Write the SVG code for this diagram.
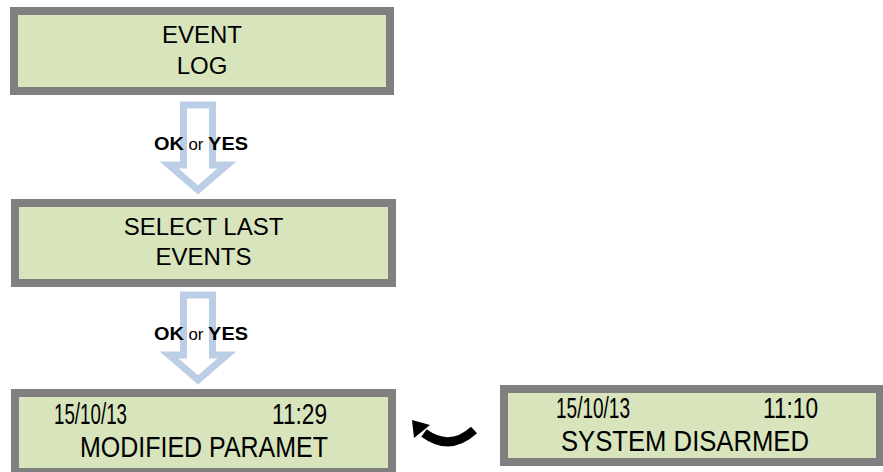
<svg xmlns="http://www.w3.org/2000/svg" width="883" height="472" viewBox="0 0 883 472">
<defs>
<style>
.box{fill:#d8e4bc;stroke:#808080;stroke-width:8}
.t{font-family:"Liberation Sans",Arial,sans-serif;font-size:24px;fill:#000;text-anchor:middle}
.n{font-family:"Liberation Sans",Arial,sans-serif;font-size:29px;fill:#000}
.blk{fill:#fff;stroke:#bccde6;stroke-width:7;stroke-linejoin:miter}
.lbl{font-family:"Liberation Sans",Arial,sans-serif;font-size:19px;fill:#000}
</style>
</defs>
<rect width="883" height="472" fill="#fff"/>
<g id="connectors">
<polygon class="blk" points="183.5,105 212.5,105 212.5,165 227,165 198,190 169,165 183.5,165"/>
<text class="lbl" x="154" y="150" textLength="94" lengthAdjust="spacingAndGlyphs"><tspan font-weight="bold">OK</tspan><tspan font-size="16"> or </tspan><tspan font-weight="bold">YES</tspan></text>
<polygon class="blk" points="183.5,295 212.5,295 212.5,355 227,355 198,380 169,355 183.5,355"/>
<text class="lbl" x="154" y="340" textLength="94" lengthAdjust="spacingAndGlyphs"><tspan font-weight="bold">OK</tspan><tspan font-size="16"> or </tspan><tspan font-weight="bold">YES</tspan></text>
<path d="M474,430 Q450,452 424,433" fill="none" stroke="#000" stroke-width="9"/>
<polygon points="412,420 430,425 414,438" fill="#000"/>
</g>
<g id="node-event-log">
<rect class="box" x="14" y="11" width="376" height="80"/>
<text class="t" x="202" y="43">EVENT</text>
<text class="t" x="202" y="74">LOG</text>
</g>
<g id="node-select-last">
<rect class="box" x="15" y="203" width="377" height="80"/>
<text class="t" x="203.5" y="235">SELECT LAST</text>
<text class="t" x="203.5" y="265">EVENTS</text>
</g>
<g id="node-modified">
<rect class="box" x="15" y="393" width="377" height="79"/>
<text class="n" x="54" y="424" textLength="73" lengthAdjust="spacingAndGlyphs">15/10/13</text>
<text class="n" x="272" y="424" textLength="55" lengthAdjust="spacingAndGlyphs">11:29</text>
<text class="n" x="80" y="457" textLength="248" lengthAdjust="spacingAndGlyphs">MODIFIED PARAMET</text>
</g>
<g id="node-disarmed">
<rect class="box" x="504" y="389" width="376" height="73"/>
<text class="n" x="556" y="418" textLength="74" lengthAdjust="spacingAndGlyphs">15/10/13</text>
<text class="n" x="763" y="418" textLength="55" lengthAdjust="spacingAndGlyphs">11:10</text>
<text class="n" x="561" y="451" textLength="248" lengthAdjust="spacingAndGlyphs">SYSTEM DISARMED</text>
</g>
</svg>
